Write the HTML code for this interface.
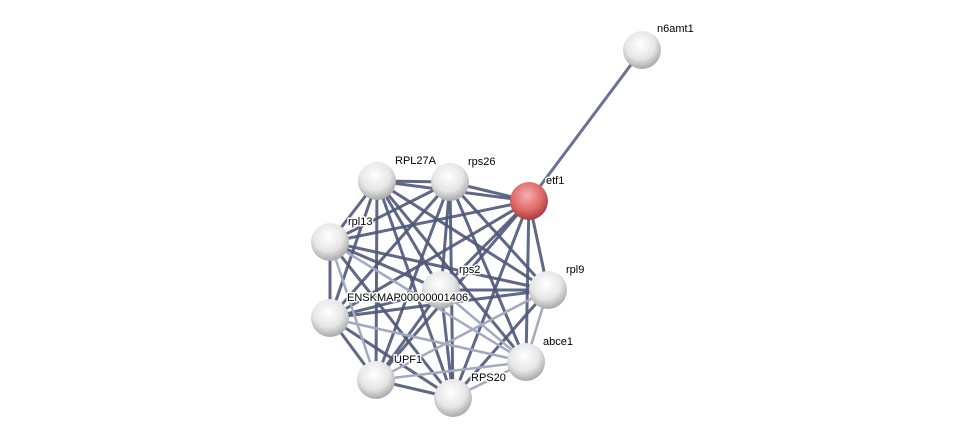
<!DOCTYPE html>
<html><head><meta charset="utf-8"><style>html,body{margin:0;padding:0;background:#fff;width:975px;height:443px;overflow:hidden}text{font-family:"Liberation Sans",sans-serif;font-size:11px;fill:#000;stroke:#fff;stroke-width:3px;stroke-linejoin:round;paint-order:stroke}</style></head><body>
<svg width="975" height="443" viewBox="0 0 975 443" xmlns="http://www.w3.org/2000/svg">
<defs>
<radialGradient id="g" cx="0.45" cy="0.35" r="0.65">
<stop offset="0" stop-color="#ffffff"/><stop offset="0.6" stop-color="#e6e6e6"/><stop offset="1" stop-color="#a8a8a8"/></radialGradient>
<radialGradient id="r" cx="0.45" cy="0.35" r="0.65">
<stop offset="0" stop-color="#f4b0b0"/><stop offset="0.6" stop-color="#e06a6a"/><stop offset="1" stop-color="#a83c3c"/></radialGradient>
</defs>
<g stroke-linecap="round">
<line x1="642" y1="50" x2="529" y2="201" stroke="#6a7290" stroke-width="3"/>
<g stroke="#4e5878" stroke-width="3" stroke-opacity="0.9">
<line x1="377" y1="181" x2="450" y2="182"/>
<line x1="377" y1="181" x2="529" y2="201"/>
<line x1="377" y1="181" x2="330" y2="242"/>
<line x1="377" y1="181" x2="441" y2="290"/>
<line x1="377" y1="181" x2="548" y2="290"/>
<line x1="377" y1="181" x2="330" y2="318"/>
<line x1="377" y1="181" x2="526" y2="362"/>
<line x1="377" y1="181" x2="376" y2="380"/>
<line x1="377" y1="181" x2="453" y2="398"/>
<line x1="450" y1="182" x2="529" y2="201"/>
<line x1="450" y1="182" x2="330" y2="242"/>
<line x1="450" y1="182" x2="441" y2="290"/>
<line x1="450" y1="182" x2="548" y2="290"/>
<line x1="450" y1="182" x2="330" y2="318"/>
<line x1="450" y1="182" x2="526" y2="362"/>
<line x1="450" y1="182" x2="376" y2="380"/>
<line x1="450" y1="182" x2="453" y2="398"/>
<line x1="529" y1="201" x2="330" y2="242"/>
<line x1="529" y1="201" x2="441" y2="290"/>
<line x1="529" y1="201" x2="548" y2="290"/>
<line x1="529" y1="201" x2="330" y2="318"/>
<line x1="529" y1="201" x2="526" y2="362"/>
<line x1="529" y1="201" x2="376" y2="380"/>
<line x1="529" y1="201" x2="453" y2="398"/>
<line x1="330" y1="242" x2="441" y2="290"/>
<line x1="330" y1="242" x2="548" y2="290"/>
<line x1="330" y1="242" x2="330" y2="318"/>
<line x1="330" y1="242" x2="453" y2="398"/>
<line x1="441" y1="290" x2="548" y2="290"/>
<line x1="441" y1="290" x2="330" y2="318"/>
<line x1="441" y1="290" x2="376" y2="380"/>
<line x1="441" y1="290" x2="453" y2="398"/>
<line x1="548" y1="290" x2="330" y2="318"/>
<line x1="548" y1="290" x2="453" y2="398"/>
<line x1="330" y1="318" x2="376" y2="380"/>
<line x1="330" y1="318" x2="453" y2="398"/>
<line x1="376" y1="380" x2="453" y2="398"/>
</g>
<g stroke="#a2a9c0" stroke-width="2.5">
<line x1="330" y1="242" x2="376" y2="380"/>
<line x1="330" y1="242" x2="526" y2="362"/>
<line x1="441" y1="290" x2="526" y2="362"/>
<line x1="548" y1="290" x2="526" y2="362"/>
<line x1="548" y1="290" x2="376" y2="380"/>
<line x1="330" y1="318" x2="526" y2="362"/>
<line x1="376" y1="380" x2="526" y2="362"/>
<line x1="453" y1="398" x2="526" y2="362"/>
</g>
</g>
<g>
<circle cx="642" cy="50" r="19" fill="url(#g)"/>
<circle cx="529" cy="201" r="19" fill="url(#r)"/>
<circle cx="377" cy="181" r="19" fill="url(#g)"/>
<circle cx="450" cy="182" r="19" fill="url(#g)"/>
<circle cx="330" cy="242" r="19" fill="url(#g)"/>
<circle cx="441" cy="290" r="19" fill="url(#g)"/>
<circle cx="548" cy="290" r="19" fill="url(#g)"/>
<circle cx="330" cy="318" r="19" fill="url(#g)"/>
<circle cx="526" cy="362" r="19" fill="url(#g)"/>
<circle cx="376" cy="380" r="19" fill="url(#g)"/>
<circle cx="453" cy="398" r="19" fill="url(#g)"/>
</g>
<text x="657" y="32">n6amt1</text>
<text x="546" y="184">etf1</text>
<text x="395" y="164">RPL27A</text>
<text x="468" y="165">rps26</text>
<text x="348" y="225">rpl13</text>
<text x="459" y="273">rps2</text>
<text x="566" y="273">rpl9</text>
<text x="347" y="301">ENSKMAP00000001406</text>
<text x="543" y="345">abce1</text>
<text x="394" y="363">UPF1</text>
<text x="471" y="381">RPS20</text>
</svg>
</body></html>
